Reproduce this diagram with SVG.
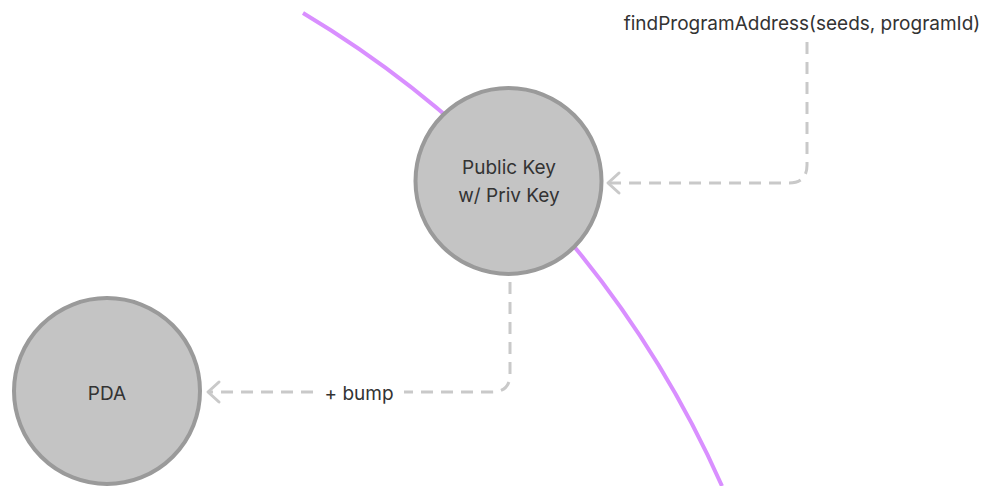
<svg xmlns="http://www.w3.org/2000/svg" width="986" height="486" viewBox="0 0 986 486">
  <style>
    .node circle { fill: #c4c4c4; stroke: #9a9a9a; stroke-width: 4; }
    .lbl { font-family: Inter, "Liberation Sans", sans-serif; font-size: 19px; fill: #333333; text-anchor: middle; }
    .conn { fill: none; stroke: #c9c9c9; stroke-width: 3; stroke-dasharray: 12 8; }
    .arc { fill: none; stroke: #d98fff; stroke-width: 4; }
  </style>
  <defs>
    <marker id="chev" markerUnits="userSpaceOnUse" markerWidth="30" markerHeight="30" refX="0" refY="0" viewBox="-15 -15 30 30" orient="auto" overflow="visible">
      <path d="M-11,-10 L0,0 L-11,10" fill="none" stroke="#c9c9c9" stroke-width="3" stroke-linecap="round" stroke-linejoin="round"/>
    </marker>
  </defs>
  <rect width="986" height="486" fill="#ffffff"/>
  <path class="arc" d="M303 13 A1046 1046 0 0 1 722 486"/>
  <g id="connectors">
    <path class="conn" d="M807 42 V165 Q807 183 789 183 H608" marker-end="url(#chev)"/>
    <path class="conn" d="M510 282 V374 Q510 392 492 392 H208" marker-end="url(#chev)"/>
    <rect x="314" y="380" width="90" height="26" fill="#ffffff"/>
    <text class="lbl" x="359" y="400">+ bump</text>
  </g>
  <g id="pubkey" class="node">
    <circle cx="508.5" cy="181" r="93"/>
    <text class="lbl" x="509" y="174">Public Key</text>
    <text class="lbl" x="509" y="202">w/ Priv Key</text>
  </g>
  <g id="pda" class="node">
    <circle cx="107" cy="391" r="93"/>
    <text class="lbl" x="107" y="400">PDA</text>
  </g>
  <g id="fpa-label">
    <text class="lbl" x="802" y="30">findProgramAddress(seeds, programId)</text>
  </g>
</svg>
